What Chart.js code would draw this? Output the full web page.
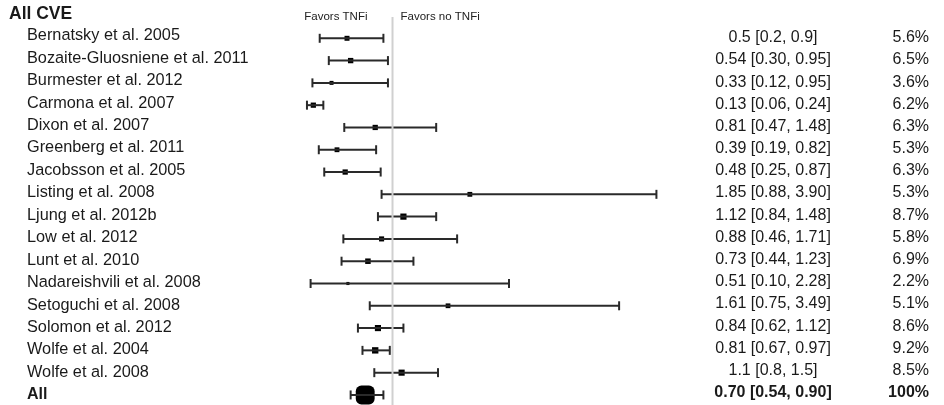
<!DOCTYPE html>
<html>
<head>
<meta charset="utf-8">
<script src="https://cdn.jsdelivr.net/npm/chart.js@4/dist/chart.umd.min.js"></script>
<style>
  html, body { margin: 0; padding: 0; background: #ffffff; }
  #wrap { position: relative; width: 944px; height: 405px; }
</style>
</head>
<body>
<div id="wrap"><canvas id="c"></canvas></div>
<script>
// ---- data ----
const groupTitle = "All CVE";
const studies = [
  "Bernatsky et al. 2005", "Bozaite-Gluosniene et al. 2011", "Burmester et al. 2012",
  "Carmona et al. 2007", "Dixon et al. 2007", "Greenberg et al. 2011",
  "Jacobsson et al. 2005", "Listing et al. 2008", "Ljung et al. 2012b",
  "Low et al. 2012", "Lunt et al. 2010", "Nadareishvili et al. 2008",
  "Setoguchi et al. 2008", "Solomon et al. 2012", "Wolfe et al. 2004", "Wolfe et al. 2008"
];
const estimates = [0.5, 0.54, 0.33, 0.13, 0.81, 0.39, 0.48, 1.85, 1.12, 0.88, 0.73, 0.51, 1.61, 0.84, 0.81, 1.1];
const lower     = [0.2, 0.30, 0.12, 0.06, 0.47, 0.19, 0.25, 0.88, 0.84, 0.46, 0.44, 0.10, 0.75, 0.62, 0.67, 0.8];
const upper     = [0.9, 0.95, 0.95, 0.24, 1.48, 0.82, 0.87, 3.90, 1.48, 1.71, 1.23, 2.28, 3.49, 1.12, 0.97, 1.5];
const ciLabels  = ["0.5 [0.2, 0.9]", "0.54 [0.30, 0.95]", "0.33 [0.12, 0.95]", "0.13 [0.06, 0.24]",
  "0.81 [0.47, 1.48]", "0.39 [0.19, 0.82]", "0.48 [0.25, 0.87]", "1.85 [0.88, 3.90]",
  "1.12 [0.84, 1.48]", "0.88 [0.46, 1.71]", "0.73 [0.44, 1.23]", "0.51 [0.10, 2.28]",
  "1.61 [0.75, 3.49]", "0.84 [0.62, 1.12]", "0.81 [0.67, 0.97]", "1.1 [0.8, 1.5]"];
const weights   = [5.6, 6.5, 3.6, 6.2, 6.3, 5.3, 6.3, 5.3, 8.7, 5.8, 6.9, 2.2, 5.1, 8.6, 9.2, 8.5];
const weightLabels = ["5.6%", "6.5%", "3.6%", "6.2%", "6.3%", "5.3%", "6.3%", "5.3%",
  "8.7%", "5.8%", "6.9%", "2.2%", "5.1%", "8.6%", "9.2%", "8.5%"];
const summaryLabel = "All";
const summaryEstimate = 0.70;
const summaryLower = 0.54;
const summaryUpper = 0.90;
const summaryCI = "0.70 [0.54, 0.90]";
const summaryWeight = "100%";
const nullValue = 1;
const favorLeft = "Favors TNFi";
const favorRight = "Favors no TNFi";

// ---- layout / style ----
const FONT = '"Liberation Sans", Arial, Helvetica, sans-serif';
const whiskerColor = '#2a2a2a';
const textColor = '#1a1a1a';
const nRows = studies.length;
const summaryRow = nRows;

const datasets = [];
// reference line at no effect
datasets.push({
  data: [{x: nullValue, y: -0.95}, {x: nullValue, y: summaryRow + 1}],
  showLine: true, borderColor: '#d0d0d0', borderWidth: 2, pointRadius: 0
});
// CI whiskers with caps
function ciDataset(lo, hi, row) {
  return {
    data: [{x: lo, y: row}, {x: hi, y: row}],
    showLine: true, borderColor: whiskerColor, borderWidth: 2,
    pointStyle: 'line', rotation: 90, pointRadius: 4.5,
    pointBorderColor: whiskerColor, pointBorderWidth: 2, pointBackgroundColor: whiskerColor
  };
}
studies.forEach((s, i) => datasets.push(ciDataset(lower[i], upper[i], i)));
datasets.push(ciDataset(summaryLower, summaryUpper, summaryRow));
// point estimates (square size by weight)
datasets.push({
  data: estimates.map((e, i) => ({x: e, y: i})),
  pointStyle: 'rect',
  pointRadius: weights.map(w => 2.1 * Math.sqrt(w) / Math.SQRT2),
  pointBackgroundColor: '#000', pointBorderWidth: 0, pointBorderColor: '#000', showLine: false
});
// summary estimate
datasets.push({
  data: [{x: summaryEstimate, y: summaryRow}],
  pointStyle: 'rectRounded', pointRadius: 11,
  pointBackgroundColor: '#000', pointBorderWidth: 0, showLine: false
});

const textPlugin = {
  id: 'forestText',
  afterDatasetsDraw(chart) {
    const ctx = chart.ctx;
    const ys = chart.scales.y;
    const xs = chart.scales.x;
    ctx.save();
    ctx.fillStyle = textColor;
    ctx.textBaseline = 'alphabetic';
    // group title
    ctx.font = 'bold 17.5px ' + FONT;
    ctx.textAlign = 'left';
    ctx.fillText(groupTitle, 9, ys.getPixelForValue(-1) + 2.5);
    // favors labels
    ctx.font = '11.5px ' + FONT;
    ctx.fillStyle = '#222';
    ctx.textAlign = 'right';
    ctx.fillText(favorLeft, xs.getPixelForValue(nullValue) - 25, 20);
    ctx.textAlign = 'left';
    ctx.fillText(favorRight, xs.getPixelForValue(nullValue) + 8, 20);
    ctx.fillStyle = textColor;
    // rows
    studies.forEach((s, i) => {
      const y = ys.getPixelForValue(i);
      ctx.font = '16.3px ' + FONT;
      ctx.textAlign = 'left';
      ctx.fillText(s, 27, y + 2 + i * 0.15);
      ctx.font = '16px ' + FONT;
      ctx.textAlign = 'center';
      ctx.fillText(ciLabels[i], 773, y + 4 - i * 0.12);
      ctx.textAlign = 'right';
      ctx.fillText(weightLabels[i], 929, y + 4 - i * 0.12);
    });
    const ySum = ys.getPixelForValue(summaryRow);
    ctx.font = 'bold 16px ' + FONT;
    ctx.textAlign = 'left';
    ctx.fillText(summaryLabel, 27, ySum + 4.5);
    ctx.textAlign = 'center';
    ctx.fillText(summaryCI, 773, ySum + 2);
    ctx.textAlign = 'right';
    ctx.fillText(summaryWeight, 929, ySum + 2);
    ctx.restore();
  }
};

new Chart(document.getElementById('c'), {
  type: 'scatter',
  data: { datasets },
  options: {
    responsive: true,
    maintainAspectRatio: false,
    animation: false,
    events: [],
    layout: { padding: 0, autoPadding: false },
    plugins: { legend: { display: false }, tooltip: { enabled: false } },
    elements: { line: { tension: 0 } },
    scales: {
      x: { type: 'linear', display: false, min: -3.313, max: 7.060 },
      y: { type: 'linear', display: false, reverse: true, min: -1.718, max: 16.451 }
    }
  },
  plugins: [textPlugin]
});
</script>
</body>
</html>
